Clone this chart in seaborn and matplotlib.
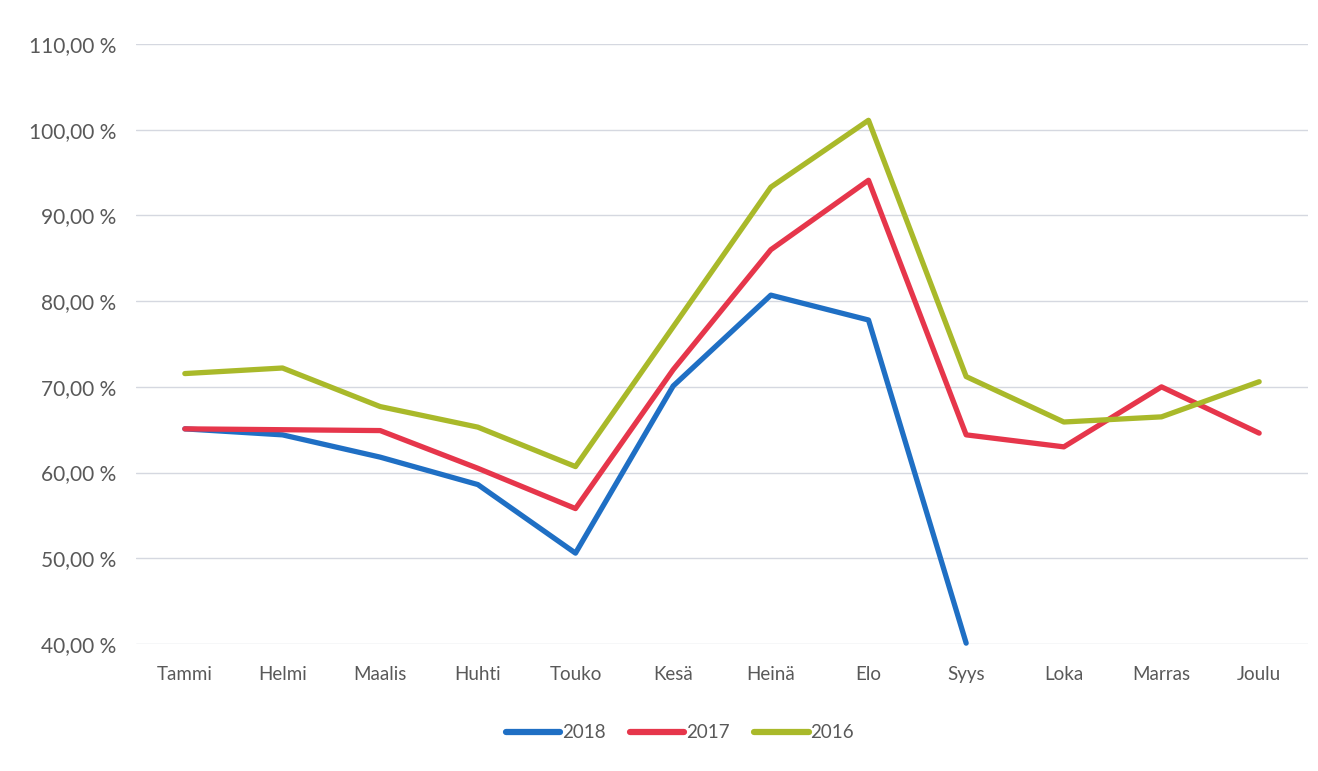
import matplotlib
matplotlib.use("Agg")
import matplotlib.pyplot as plt
import seaborn as sns
import pandas as pd
from matplotlib.ticker import FuncFormatter

months = ["Tammi", "Helmi", "Maalis", "Huhti", "Touko", "Kesä",
          "Heinä", "Elo", "Syys", "Loka", "Marras", "Joulu"]
v2018 = [65.1, 64.4, 61.8, 58.6, 50.6, 70.1, 80.7, 77.8, 40.1, None, None, None]
v2017 = [65.1, 65.0, 64.9, 60.5, 55.8, 72.0, 86.0, 94.1, 64.4, 63.0, 70.0, 64.6]
v2016 = [71.55, 72.2, 67.7, 65.3, 60.7, 77.0, 93.3, 101.1, 71.2, 65.9, 66.5, 70.6]
years = ["2018", "2017", "2016"]
colors = {"2018": "#1f6fc4", "2017": "#e6364b", "2016": "#a9b92a"}

rows = []
for yr, vals in zip(years, [v2018, v2017, v2016]):
    for i, (m, v) in enumerate(zip(months, vals)):
        if v is not None:
            rows.append({"idx": i, "month": m, "value": v, "year": yr})
df = pd.DataFrame(rows)

sns.set_theme(style="white")
plt.rcParams["font.family"] = ["Lato", "DejaVu Sans"]

fig = plt.figure(figsize=(13.18, 7.71), dpi=100)
ax = fig.add_axes([136/1318, 1-644/771, (1308-136)/1318, 600/771])

sns.lineplot(data=df, x="idx", y="value", hue="year", hue_order=years,
             palette=colors, linewidth=3.8, ax=ax, sort=True, legend=True)
for ln in ax.lines:
    ln.set_clip_on(False)
    ln.set_solid_capstyle("round")
    ln.set_solid_joinstyle("round")

ax.set_xlim(-0.5, 11.5)
ax.set_ylim(40, 110)
ax.set_yticks(range(40, 111, 10))
ax.yaxis.set_major_formatter(FuncFormatter(lambda v, p: f"{v:.2f}".replace(".", ",") + " %"))
ax.set_xticks(range(len(months)))
ax.set_xticklabels(months)
ax.grid(axis="y", color="#d5d8e0", linewidth=1.0)
ax.grid(axis="x", visible=False)
for s in ax.spines.values():
    s.set_visible(False)
ax.tick_params(axis="both", colors="#595959", length=0)
ax.tick_params(axis="y", pad=14, labelsize=15)
ax.tick_params(axis="x", pad=16, labelsize=13.5)
ax.set_xlabel("")
ax.set_ylabel("")

leg = ax.legend(loc="center", bbox_to_anchor=((680-136)/1172, (644-733)/600), ncol=3,
                frameon=False, fontsize=13.5, handlelength=2.9, handletextpad=0.1,
                columnspacing=1.3)
for t in leg.get_texts():
    t.set_color("#595959")
for h in leg.get_lines():
    h.set_linewidth(4.5)

fig.savefig("out.png", dpi=100, facecolor="white")
